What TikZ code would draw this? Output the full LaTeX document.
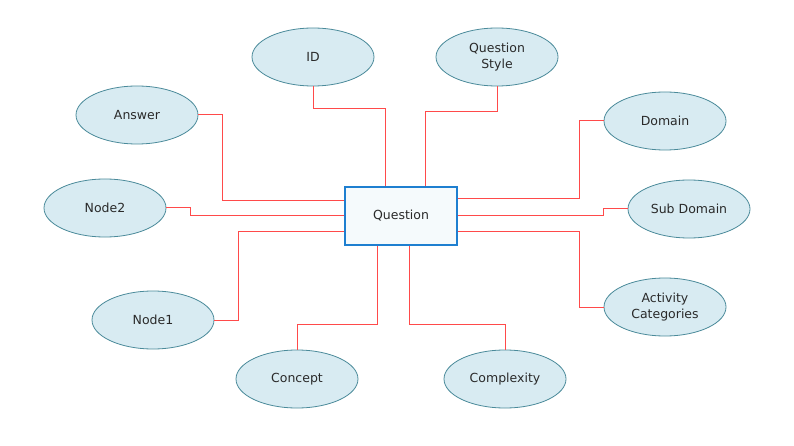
\documentclass[tikz,border=0pt]{standalone}
\usepackage{fontspec}
\setmainfont{DejaVu Sans}
\usetikzlibrary{shapes.geometric}
\definecolor{ellfill}{HTML}{D8EBF2}
\definecolor{elldraw}{HTML}{4A8A9A}
\definecolor{boxfill}{HTML}{F5FAFC}
\definecolor{boxdraw}{HTML}{1E7FD0}
\definecolor{linkred}{HTML}{FF4A4A}
\definecolor{txt}{HTML}{2A2A2A}
\tikzset{
  attr/.style={ellipse, draw=elldraw, fill=ellfill, line width=0.8pt, minimum width=122pt, minimum height=58pt, inner sep=0pt, text=txt, font=\fontsize{12.5}{16.5}\selectfont, align=center},
  entity/.style={rectangle, draw=boxdraw, fill=boxfill, line width=1.1pt, minimum width=112pt, minimum height=58pt, inner sep=0pt, text=txt, font=\fontsize{12.5}{16.5}\selectfont},
  link/.style={draw=linkred, line width=1pt}
}
\begin{document}
\begin{tikzpicture}[x=1pt,y=-1pt]
\useasboundingbox (0,0) rectangle (794,446);
\node[entity] (q) at (401,216) {Question};
\node[attr] (id) at (313,57) {ID};
\node[attr] (qs) at (497,57) {Question\\Style};
\node[attr] (ans) at (137,115) {Answer};
\node[attr] (dom) at (665,121) {Domain};
\node[attr] (n2) at (105,208) {Node2};
\node[attr] (sd) at (689,209) {Sub Domain};
\node[attr] (act) at (665,307) {Activity\\Categories};
\node[attr] (n1) at (153,320) {Node1};
\node[attr] (con) at (297,379) {Concept};
\node[attr] (cx) at (505,379) {Complexity};

\draw[link] (ans.east) -- (222,115) -- (222,201) -- (q.west |- 0,201);
\draw[link] (n2.east) -- (190,208) -- (190,216) -- (q.west);
\draw[link] (n1.east) -- (238,320) -- (238,231) -- (q.west |- 0,231);
\draw[link] (id.south) -- (313,109) -- (385,109) -- (385,0 |- q.north);
\draw[link] (qs.south) -- (497,112) -- (425,112) -- (425,0 |- q.north);
\draw[link] (dom.west) -- (579,121) -- (579,199) -- (q.east |- 0,199);
\draw[link] (sd.west) -- (603,209) -- (603,216) -- (q.east);
\draw[link] (act.west) -- (579,307) -- (579,231) -- (q.east |- 0,231);
\draw[link] (con.north) -- (297,324) -- (377,324) -- (377,0 |- q.south);
\draw[link] (cx.north) -- (505,324) -- (409,324) -- (409,0 |- q.south);
\end{tikzpicture}
\end{document}
